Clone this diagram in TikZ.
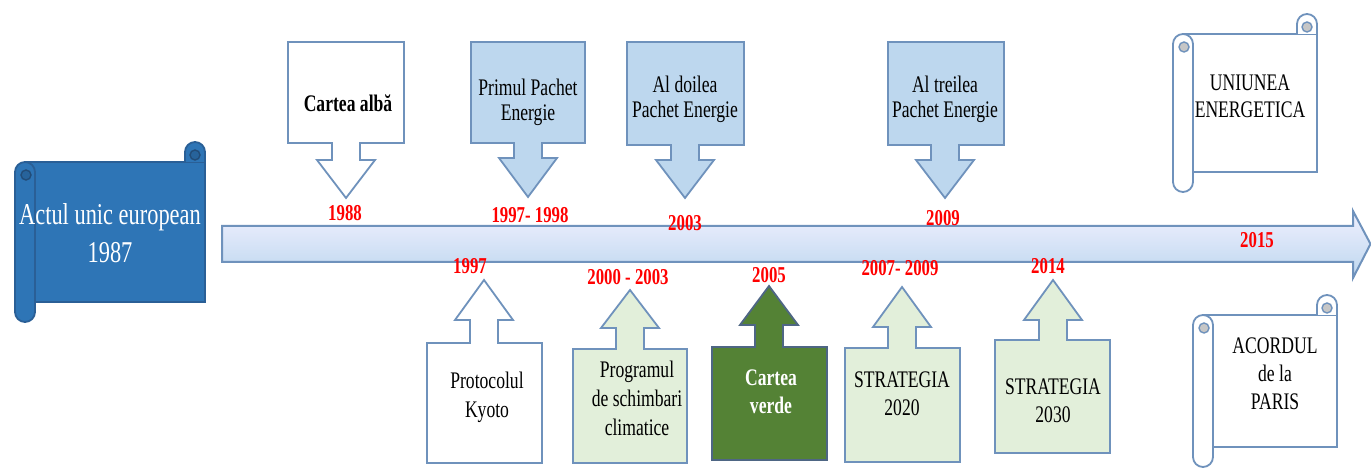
\documentclass[tikz,border=0pt]{standalone}
\usepackage{fontspec}
\setmainfont{Liberation Serif}
\newcommand{\vtxt}[3]{\scalebox{1}[1.35]{\fontsize{#1}{#2}\selectfont\begin{tabular}{@{}c@{}}#3\end{tabular}}}
\newcommand{\yrtxt}[1]{\scalebox{1}[1.35]{\fontsize{8.4}{10}\selectfont\bfseries #1}}
% callout: style, x0, x1, far edge y, near edge y, tip x, head base y, tip y
\newcommand{\callout}[8]{%
  \path[#1] (#2,#4) -- (#3,#4) -- (#3,#5) -- (#6+14,#5) -- (#6+14,#7) -- (#6+29,#7)
    -- (#6,#8) -- (#6-29,#7) -- (#6-14,#7) -- (#6-14,#5) -- (#2,#5) -- cycle;}
% scroll: paper style, curl style, x0, y0, x1, y1 (c = 20)
\newcommand{\scrollshape}[6]{%
  \path[#1] (#3+10,#4+20) rectangle (#5,#6-20);
  \path[#1] (#5-20,#4+20) -- (#5-20,#4+10) arc[start angle=180,end angle=360,radius=10] -- (#5,#4+20);
  \path[#2] (#5-10,#4+13) circle[radius=5];
  \path[#1] (#3,#4+30) -- (#3,#6-10) arc[start angle=180,end angle=0,radius=10]
    -- (#3+20,#4+30) arc[start angle=0,end angle=-180,radius=10] -- cycle;
  \path[#2] (#3+11,#4+33) circle[radius=5];}
\definecolor{edgeblue}{HTML}{6F92BC}
\definecolor{lightblue}{HTML}{BDD7EE}
\definecolor{lightgreen}{HTML}{E2EFDA}
\definecolor{darkgreen}{HTML}{548235}
\definecolor{scrollblue}{HTML}{2E75B6}
\definecolor{scrolledge}{HTML}{2A5F96}
\definecolor{yearred}{HTML}{FF0000}
\tikzset{
  whitebox/.style={draw=edgeblue,fill=white,line width=0.9pt,line join=miter},
  bluebox/.style={draw=edgeblue,fill=lightblue,line width=0.9pt,line join=miter},
  greenbox/.style={draw=edgeblue,fill=lightgreen,line width=0.9pt,line join=miter},
  darkbox/.style={draw=edgeblue!70!black,fill=darkgreen,line width=0.9pt,line join=miter},
  label/.style={inner sep=0pt,text=black},
  year/.style={inner sep=0pt,text=yearred},
  whitescroll/.style={draw=edgeblue,fill=white,line width=0.9pt},
  whitecurl/.style={draw=edgeblue,fill=gray!45,line width=0.7pt},
  bluescroll/.style={draw=scrolledge,fill=scrollblue,line width=0.9pt},
  bluecurl/.style={draw=scrolledge!80!black,fill=scrollblue!85!black,line width=0.7pt},
}
\begin{document}
\begin{tikzpicture}[x=0.5pt,y=-0.5pt]
\useasboundingbox (0,0) rectangle (1371,469);
% main timeline arrow
\path[draw=edgeblue,line width=1pt,top color=blue!6,bottom color=lightblue]
  (222,226) -- (1353,226) -- (1353,211) -- (1370.5,244) -- (1353,278) -- (1353,262) -- (222,262) -- cycle;
\coordinate (tlstart) at (222,244);
\coordinate (tlend) at (1371,244);
% left scroll
\scrollshape{bluescroll}{bluecurl}{15}{142}{205}{322}
\node[label,text=white] (actul) at (110,236) {\vtxt{11.2}{14}{Actul unic european\\1987}};
% right scrolls
\scrollshape{whitescroll}{whitecurl}{1173}{14}{1317}{192}
\node[label] (uniunea) at (1250,99) {\vtxt{8.8}{10}{UNIUNEA\\ENERGETICA}};
\scrollshape{whitescroll}{whitecurl}{1193}{295}{1337}{467}
\node[label] (acordul) at (1275,376) {\vtxt{8.8}{10.2}{ACORDUL\\de la\\PARIS}};
% top callouts
\callout{whitebox}{288}{404}{42}{143}{346}{160}{198}
\node[label] (alba) at (348,106) {\vtxt{8.8}{10.5}{\bfseries Cartea albă}};
\node[year] (y1988) at (345,213) {\yrtxt{1988}};
\callout{bluebox}{471}{585}{42}{143}{528}{158}{197}
\node[label] (primul) at (528,103) {\vtxt{8.8}{9.3}{Primul Pachet\\Energie}};
\node[year] (y1997b) at (530,215) {\yrtxt{1997- 1998}};
\callout{bluebox}{627}{744}{42}{145}{685}{160}{198}
\node[label] (doilea) at (685,100) {\vtxt{8.8}{9.3}{Al doilea\\Pachet Energie}};
\node[year] (y2003) at (685,223) {\yrtxt{2003}};
\callout{bluebox}{888}{1004}{42}{145}{945}{160}{198}
\node[label] (treilea) at (945,100) {\vtxt{8.8}{9.3}{Al treilea\\Pachet Energie}};
\node[year] (y2009) at (943,218) {\yrtxt{2009}};
% bottom callouts
\callout{whitebox}{427}{542}{463}{343}{484}{320}{280}
\node[label] (kyoto) at (487,397) {\vtxt{8.8}{11}{Protocolul\\Kyoto}};
\node[year] (y1997) at (470,266) {\yrtxt{1997}};
\callout{greenbox}{573}{687}{463}{349}{630}{328}{290}
\node[label] (program) at (637,401) {\vtxt{8.8}{10.7}{Programul\\de schimbari\\climatice}};
\node[year] (y2000) at (628,277) {\yrtxt{2000 - 2003}};
\callout{darkbox}{712}{827}{460}{347}{769}{325}{286}
\node[label,text=white] (verde) at (771,394) {\vtxt{8.8}{10.4}{\bfseries Cartea\\\bfseries verde}};
\node[year] (y2005) at (769,275) {\yrtxt{2005}};
\callout{greenbox}{845}{960}{462}{348}{902}{327}{287}
\node[label] (s2020) at (902,396) {\vtxt{8.8}{10.4}{STRATEGIA\\2020}};
\node[year] (y2007) at (900,268) {\yrtxt{2007- 2009}};
\callout{greenbox}{995}{1110}{453}{340}{1053}{320}{280}
\node[label] (s2030) at (1053,403) {\vtxt{8.8}{10.2}{STRATEGIA\\2030}};
\node[year] (y2014) at (1048,266) {\yrtxt{2014}};
\node[year] (y2015) at (1257,240) {\yrtxt{2015}};
\end{tikzpicture}
\end{document}
